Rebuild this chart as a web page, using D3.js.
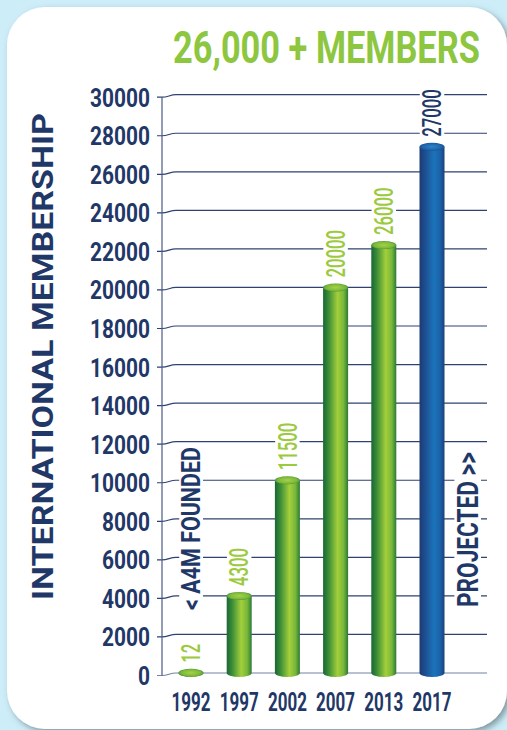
<!DOCTYPE html>
<html>
<head>
<meta charset="utf-8">
<script src="https://cdn.jsdelivr.net/npm/d3@7"></script>
<style>
  html, body { margin: 0; padding: 0; background: #cdeef9; }
  svg { display: block; }
  text { font-family: Roboto, "Liberation Sans", sans-serif; }
</style>
</head>
<body>
<div id="chart"></div>
<script>
// data
const years = ["1992", "1997", "2002", "2007", "2013", "2017"];
const barValues = [12, 4000, 10000, 20000, 22200, 27300];
const barLabels = ["12", "4300", "11500", "20000", "26000", "27000"];
const projected = [false, false, false, false, false, true];
const yTicks = [0, 2000, 4000, 6000, 8000, 10000, 12000, 14000, 16000, 18000, 20000, 22000, 24000, 26000, 28000, 30000];

const title = "26,000 + MEMBERS",
      yTitle = "INTERNATIONAL MEMBERSHIP",
      foundedNote = "< A4M FOUNDED",
      projectedNote = "PROJECTED >>";

const width = 507, height = 730;
const navy = "#1f3867", green = "#8dc63f", valueGreen = "#9cca3f";

const svg = d3.select("#chart").append("svg")
    .attr("width", width)
    .attr("height", height);

const defs = svg.append("defs");

// card shadow
const shadow = defs.append("filter").attr("id", "shadow")
    .attr("x", "-10%").attr("y", "-10%").attr("width", "130%").attr("height", "130%");
shadow.append("feDropShadow")
    .attr("dx", 3).attr("dy", 3).attr("stdDeviation", 3)
    .attr("flood-color", "#3d4f57").attr("flood-opacity", 0.55);

function linGrad(id, stops) {
    const g = defs.append("linearGradient").attr("id", id)
        .attr("x1", "0%").attr("x2", "100%").attr("y1", "0%").attr("y2", "0%");
    stops.forEach(s => g.append("stop").attr("offset", s[0]).attr("stop-color", s[1]));
}
function radGrad(id, stops) {
    const g = defs.append("radialGradient").attr("id", id)
        .attr("cx", "50%").attr("cy", "50%").attr("r", "55%");
    stops.forEach(s => g.append("stop").attr("offset", s[0]).attr("stop-color", s[1]));
}
linGrad("greenBody", [["0%", "#1a6634"], ["22%", "#3b8d37"], ["58%", "#a3cf3b"], ["82%", "#79b73a"], ["100%", "#2b7a36"]]);
radGrad("greenTop", [["0%", "#a8d045"], ["70%", "#7cb93b"], ["100%", "#3e8c37"]]);
linGrad("blueBody", [["0%", "#1c3a73"], ["25%", "#1d5193"], ["58%", "#1b74bb"], ["82%", "#1b62aa"], ["100%", "#1c3f7b"]]);
radGrad("blueTop", [["0%", "#2a84c8"], ["70%", "#1d65ab"], ["100%", "#1b4786"]]);

// background card
svg.append("rect")
    .attr("x", 7).attr("y", 7)
    .attr("width", 500).attr("height", 722)
    .attr("rx", 38).attr("ry", 38)
    .attr("fill", "#fff")
    .attr("filter", "url(#shadow)");

// scales
const yScale = d3.scaleLinear().domain([0, 30000]).range([673, 94.7]);
const xScale = d3.scalePoint().domain(years).range([191, 432]);

const axisX = 162, gridEnd = 487, capOffset = 2.5;

// squeezed text: measure, then scale horizontally to the wanted length
// (the reference uses a condensed face we don't have)
function fitText(parent, x, y, rot, anchor, size, len, color, weight, str) {
    const t = parent.append("text")
        .attr("text-anchor", anchor)
        .attr("font-size", size)
        .attr("font-weight", weight)
        .attr("fill", color)
        .text(str);
    const k = len / t.node().getComputedTextLength();
    t.attr("transform", `translate(${x},${y}) rotate(${rot}) scale(${k},1)`);
    return t;
}

// gridlines with the little curved ticks
const grid = svg.append("g");
yTicks.forEach(function(t) {
    const gy = yScale(t);
    grid.append("path")
        .attr("d", `M${axisX - 5},${gy + capOffset} L${axisX},${gy + capOffset} C${axisX + 6},${gy + capOffset} ${axisX + 8},${gy} ${axisX + 14},${gy} L${gridEnd},${gy}`)
        .attr("fill", "none")
        .attr("stroke", t === 0 ? "#7482a5" : "#2f4272")
        .attr("stroke-width", 1.2);

    fitText(grid, 150, gy + 12, 0, "end", 25, String(t).length * 12, navy, 700, t);
});

// y axis line
svg.append("line")
    .attr("x1", axisX).attr("x2", axisX)
    .attr("y1", yScale(30000) + capOffset).attr("y2", yScale(0) + capOffset)
    .attr("stroke", "#4a5a82").attr("stroke-width", 1.2);

// rotated text on a white patch (knocks out the gridlines)
function vText(baseX, startY, anchor, size, len, color, weight, str) {
    const cap = size * 0.711;
    let y0 = anchor === "start" ? startY - len : startY - len / 2;
    svg.append("rect")
        .attr("x", baseX - cap - 3).attr("y", y0 - 3)
        .attr("width", cap + 6).attr("height", len + 6)
        .attr("fill", "#fff");
    fitText(svg, baseX, startY, -90, anchor, size, len, color, weight, str);
}

// value labels above bars
const rx = 12.5, ry = 4;
barValues.forEach(function(v, i) {
    const cx = xScale(years[i]);
    const top = yScale(v) - ry - 6;
    const size = 26, cap = size * 0.711;
    vText(cx + cap / 2, top, "start", size, barLabels[i].length * 9.5,
        projected[i] ? navy : valueGreen, 500, barLabels[i]);
});

// side notes
vText(200, 528.5, "middle", 25, 163, navy, 700, foundedNote);
vText(478, 529.5, "middle", 29, 155, navy, 700, projectedNote);

// cylinders
const bars = svg.append("g");
barValues.forEach(function(v, i) {
    const cx = xScale(years[i]);
    const yTop = yScale(v), yBase = yScale(0);
    bars.append("path")
        .attr("d", `M${cx - rx},${yTop} L${cx - rx},${yBase} A${rx},${ry} 0 0 0 ${cx + rx},${yBase} L${cx + rx},${yTop} Z`)
        .attr("fill", projected[i] ? "url(#blueBody)" : "url(#greenBody)");
    bars.append("ellipse")
        .attr("cx", cx).attr("cy", yTop)
        .attr("rx", rx).attr("ry", ry)
        .attr("fill", projected[i] ? "url(#blueTop)" : "url(#greenTop)");
});

// year labels
const yearG = svg.append("g");
years.forEach(function(d) {
    fitText(yearG, xScale(d), 711, 0, "middle", 25, 39, navy, 700, d);
});

// y axis title
fitText(svg, 53, 356.5, -90, "middle", 30, 487, navy, 700, yTitle);

// headline
fitText(svg, 173, 63, 0, "start", 45, 307, green, 700, title);
</script>
</body>
</html>
